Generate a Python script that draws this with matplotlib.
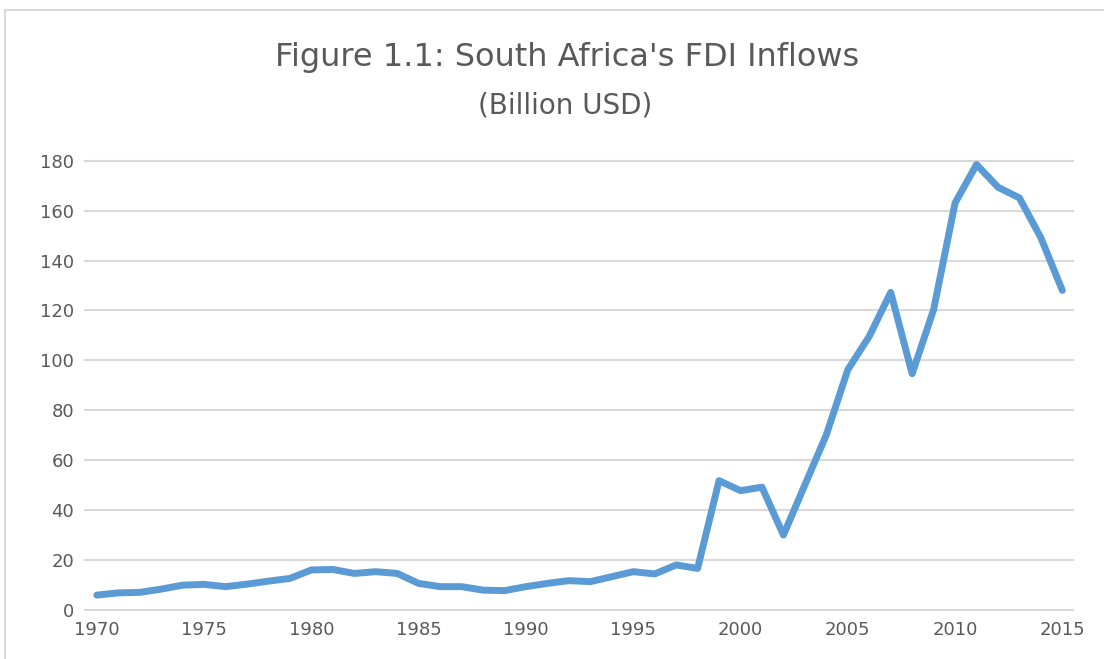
import numpy as np
import matplotlib
matplotlib.use("Agg")
import matplotlib.pyplot as plt
from matplotlib.lines import Line2D

years = list(range(1970, 2016))
fdi = [5.8, 6.7, 6.9, 8.2, 9.8, 10.1, 9.2, 10.2, 11.4, 12.5,
       15.9, 16.1, 14.5, 15.2, 14.5, 10.5, 9.2, 9.2, 7.8, 7.6,
       9.2, 10.5, 11.6, 11.2, 13.2, 15.2, 14.3, 17.9, 16.5, 51.7,
       47.7, 49.1, 29.9, 50.0, 70.1, 96.2, 109.6, 127.2, 94.6, 120.3,
       163.1, 178.5, 169.4, 165.1, 149.1, 128.0]
x_ticks = [1970, 1975, 1980, 1985, 1990, 1995, 2000, 2005, 2010, 2015]
y_ticks = [0, 20, 40, 60, 80, 100, 120, 140, 160, 180]

txt = "#595959"
grid = "#D9D9D9"

fig = plt.figure(figsize=(11.04, 6.59), dpi=100)
ax = fig.add_axes([0.077, 0.075, 0.895, 0.681])

ax.plot(years, fdi, color="#5B9BD5", linewidth=5, solid_capstyle="round",
        solid_joinstyle="round", zorder=3, clip_on=False)

ax.set_xlim(1969.45, 2015.5)
ax.set_ylim(0, 180)
ax.set_xticks(x_ticks)
ax.set_yticks(y_ticks)
ax.grid(axis="y", color=grid, linewidth=1.5, zorder=0)
for gl in ax.get_ygridlines():
    gl.set_clip_on(False)
ax.tick_params(length=0, labelsize=13, labelcolor=txt, pad=8)
for s in ax.spines.values():
    s.set_visible(False)

fig.text(0.514, 0.913, "Figure 1.1: South Africa's FDI Inflows", ha="center", va="center",
         fontsize=23, color=txt)
fig.text(0.512, 0.840, "(Billion USD)", ha="center", va="center",
         fontsize=20, color=txt)

# chart frame (top and left edge visible)
fig.add_artist(Line2D([5 / 1104, 1], [1 - 10 / 659, 1 - 10 / 659], color=grid, linewidth=1.5))
fig.add_artist(Line2D([5 / 1104, 5 / 1104], [0, 1 - 10 / 659], color=grid, linewidth=1.5))

fig.savefig("out.png", dpi=100)
